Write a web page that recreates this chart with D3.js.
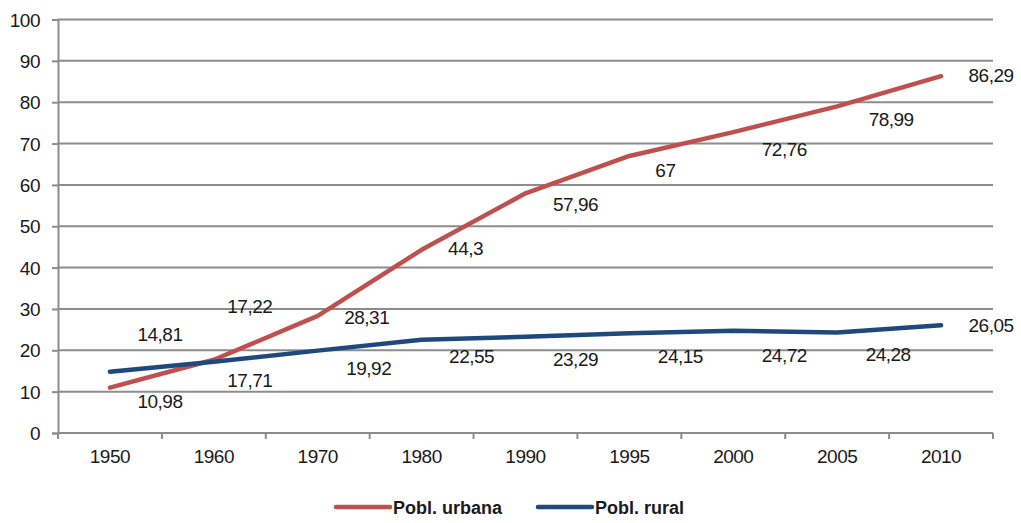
<!DOCTYPE html>
<html>
<head>
<meta charset="utf-8">
<script src="https://cdn.jsdelivr.net/npm/d3@7"></script>
<style>
  html, body { margin: 0; padding: 0; background: #fff; }
  svg text { font-family: "Liberation Sans", Arial, sans-serif; fill: #1a1a1a; letter-spacing: -0.5px; }
</style>
</head>
<body>
<svg id="chart" width="1021" height="523"></svg>
<script>
// Population (millions) by census year
const years = ["1950", "1960", "1970", "1980", "1990", "1995", "2000", "2005", "2010"];
const urbana = [10.98, 17.71, 28.31, 44.3, 57.96, 67, 72.76, 78.99, 86.29];
const rural = [14.81, 17.22, 19.92, 22.55, 23.29, 24.15, 24.72, 24.28, 26.05];
const yTicks = [0, 10, 20, 30, 40, 50, 60, 70, 80, 90, 100];
const seriesNames = ["Pobl. urbana", "Pobl. rural"];

// Label placement: pixel offsets of each value label from its point
const urbanaLabelOffset = [[50, 14], [36, 21], [49, 1], [44, -1], [50, 11], [36, 14], [51, 17], [54, 13], [50, -1]];
const ruralLabelOffset = [[50, -37], [36, -55], [51, 18], [50, 17], [50, 23], [51, 23], [51, 25], [51, 22], [50, 0]];

const colors = { urbana: "#C0504D", rural: "#1F497D" };
const gridColor = "#8C8C8C";
const fontSize = 19;

const svg = d3.select("#chart");
const plot = { left: 58, right: 993, top: 19.5, bottom: 433 };

const x = d3.scaleBand().domain(years).range([plot.left, plot.right]).padding(0);
const y = d3.scaleLinear().domain([0, 100]).range([plot.bottom, plot.top]);
const cx = d => x(d) + x.bandwidth() / 2;

// Horizontal gridlines
svg.append("g")
  .selectAll("line")
  .data(yTicks.filter(t => t > 0))
  .join("line")
  .attr("x1", plot.left).attr("x2", plot.right)
  .attr("y1", d => y(d)).attr("y2", d => y(d))
  .attr("stroke", gridColor).attr("stroke-width", 2);

// Y axis
const yAxis = svg.append("g")
  .attr("transform", `translate(${plot.left},0)`)
  .call(d3.axisLeft(y).tickValues(yTicks).tickSize(6).tickPadding(12).tickFormat(d3.format("d")));
yAxis.select(".domain").attr("stroke", gridColor).attr("stroke-width", 2);
yAxis.selectAll(".tick line").attr("stroke", gridColor).attr("stroke-width", 2);
yAxis.selectAll(".tick text")
  .attr("font-size", fontSize).attr("font-family", "Liberation Sans, Arial, sans-serif")
  .attr("fill", "#1a1a1a").attr("dy", "0.35em");

// X axis: ticks between categories
const xAxis = svg.append("g")
  .attr("transform", `translate(0,${plot.bottom})`)
  .call(d3.axisBottom(x).tickSize(0).tickPadding(15));
xAxis.select(".domain").remove();
xAxis.append("line")
  .attr("x1", plot.left).attr("x2", plot.right).attr("y1", 0).attr("y2", 0)
  .attr("stroke", gridColor).attr("stroke-width", 2);
xAxis.selectAll(".bound")
  .data(years.map(d => x(d)).concat([plot.right]))
  .join("line")
  .attr("class", "bound")
  .attr("x1", d => d).attr("x2", d => d)
  .attr("y1", 0).attr("y2", 6)
  .attr("stroke", gridColor).attr("stroke-width", 2);
xAxis.selectAll(".tick text")
  .attr("font-size", fontSize).attr("font-family", "Liberation Sans, Arial, sans-serif")
  .attr("fill", "#1a1a1a").attr("dy", "0.8em");

// Lines
const line = d3.line()
  .x((d, i) => cx(years[i]))
  .y(d => y(d));

[[urbana, colors.urbana], [rural, colors.rural]].forEach(([vals, col]) => {
  svg.append("path")
    .datum(vals)
    .attr("d", line)
    .attr("fill", "none")
    .attr("stroke", col)
    .attr("stroke-width", 4.5)
    .attr("stroke-linejoin", "round")
    .attr("stroke-linecap", "round");
});

// Value labels
const fmt = v => String(v).replace(".", ",");
[[urbana, urbanaLabelOffset], [rural, ruralLabelOffset]].forEach(([vals, offs]) => {
  svg.append("g")
    .selectAll("text")
    .data(vals)
    .join("text")
    .attr("x", (d, i) => cx(years[i]) + offs[i][0])
    .attr("y", (d, i) => y(d) + offs[i][1])
    .attr("dy", "0.35em")
    .attr("text-anchor", "middle")
    .attr("font-size", fontSize)
    .text(fmt);
});

// Legend
const legend = svg.append("g");
const legendItems = [
  { name: seriesNames[0], color: colors.urbana, x: 336 },
  { name: seriesNames[1], color: colors.rural, x: 538 }
];
legendItems.forEach(it => {
  legend.append("line")
    .attr("x1", it.x).attr("x2", it.x + 54)
    .attr("y1", 507).attr("y2", 507)
    .attr("stroke", it.color).attr("stroke-width", 4.5)
    .attr("stroke-linecap", "round");
  legend.append("text")
    .attr("x", it.x + 57).attr("y", 514)
    .attr("font-size", 18).attr("font-weight", "bold")
    .attr("fill", "#111")
    .style("letter-spacing", "0px")
    .text(it.name);
});
</script>
</body>
</html>
